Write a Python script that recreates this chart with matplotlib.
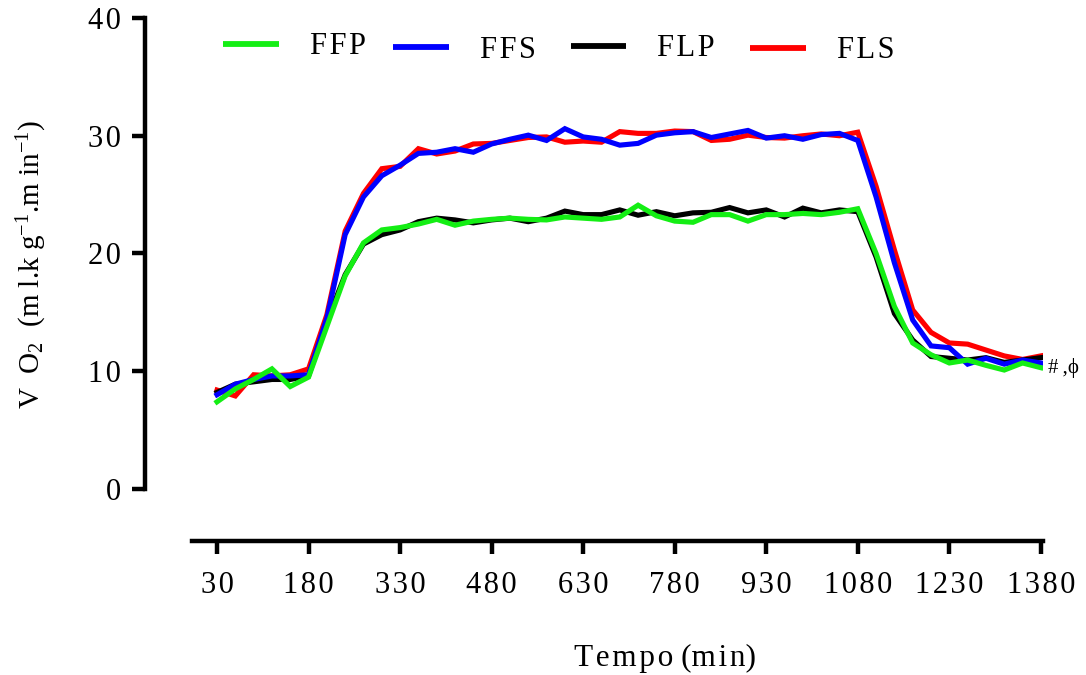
import matplotlib
matplotlib.use("Agg")
import matplotlib.pyplot as plt
from matplotlib.lines import Line2D

plt.rcParams['font.family'] = ['Liberation Serif', 'DejaVu Serif']
plt.rcParams['mathtext.fontset'] = 'custom'
plt.rcParams['mathtext.rm'] = 'Liberation Serif'
plt.rcParams['mathtext.it'] = 'Liberation Serif:italic'

# Sampling times (min)
tempo = list(range(30, 1381, 30))

ffp = [7.4, 8.5, 9.3, 10.2, 8.7, 9.5, 13.8, 18.1, 20.9, 22.0, 22.2, 22.5, 22.9, 22.4,
       22.75, 22.9, 23.0, 22.9, 22.85, 23.1, 23.0, 22.9, 23.1, 24.1, 23.2, 22.75, 22.65,
       23.3, 23.3, 22.75, 23.3, 23.3, 23.4, 23.3, 23.5, 23.8, 20.0, 15.5, 12.4, 11.4,
       10.7, 10.95, 10.5, 10.1, 10.7, 10.3]
flp = [8.2, 8.9, 9.1, 9.3, 9.3, 9.6, 14.2, 18.2, 20.8, 21.6, 22.0, 22.7, 23.0, 22.85,
       22.6, 22.85, 23.0, 22.7, 23.0, 23.6, 23.3, 23.3, 23.7, 23.25, 23.55, 23.2, 23.45,
       23.5, 23.9, 23.45, 23.7, 23.1, 23.85, 23.45, 23.7, 23.55, 19.7, 14.9, 12.65, 11.25,
       11.1, 10.95, 11.15, 10.75, 10.95, 11.15]
ffs = [8.0, 8.9, 9.3, 9.6, 9.6, 9.7, 14.5, 21.6, 24.8, 26.6, 27.5, 28.5, 28.6, 28.9,
       28.6, 29.3, 29.7, 30.05, 29.6, 30.6, 29.9, 29.7, 29.2, 29.35, 30.05, 30.25, 30.35,
       29.85, 30.15, 30.45, 29.8, 30.0, 29.7, 30.1, 30.2, 29.6, 24.8, 19.2, 14.35, 12.15,
       12.0, 10.6, 11.1, 10.6, 10.95, 10.7]
fls = [8.4, 7.9, 9.7, 9.6, 9.7, 10.2, 14.8, 21.9, 25.1, 27.2, 27.4, 28.9, 28.45, 28.7,
       29.3, 29.35, 29.6, 29.85, 29.9, 29.45, 29.55, 29.45, 30.35, 30.2, 30.2, 30.4, 30.35,
       29.6, 29.7, 30.05, 29.85, 29.8, 30.0, 30.15, 30.0, 30.3, 25.7, 20.3, 15.2, 13.3,
       12.4, 12.3, 11.8, 11.3, 11.0, 11.3]

series_names = ["FFP", "FFS", "FLP", "FLS"]
colors = {"FFP": "#14ee14", "FFS": "#0000ff", "FLP": "#000000", "FLS": "#ff0000"}
xticks = list(range(30, 1381, 150))
yticks = [0, 10, 20, 30, 40]

HAIR = "\u200a"
THIN = "\u2009"


def spaced(s, sep=HAIR):
    return sep.join(s)


fig = plt.figure(figsize=(10.86, 6.75), dpi=100)
ax = fig.add_axes([192 / 1086, 1 - 541 / 675, (1043 - 192) / 1086, (541 - 18) / 675])

lw = 3.7
ax.plot(tempo, fls, color=colors["FLS"], lw=lw, solid_joinstyle='miter', zorder=2)
ax.plot(tempo, flp, color=colors["FLP"], lw=lw, solid_joinstyle='miter', zorder=3)
ax.plot(tempo, ffs, color=colors["FFS"], lw=lw, solid_joinstyle='miter', zorder=4)
ax.plot(tempo, ffp, color=colors["FFP"], lw=lw, solid_joinstyle='miter', zorder=5)

ax.set_xlim(-11, 1383.5)
ax.set_ylim(-4.42, 40)

for side in ("top", "right"):
    ax.spines[side].set_visible(False)
ax.spines['left'].set_position(('outward', 33.8))
ax.spines['left'].set_bounds(0, 40)
for side in ("left", "bottom"):
    ax.spines[side].set_linewidth(3.2)
    ax.spines[side].set_capstyle('projecting')

ax.set_xticks(xticks)
ax.set_xticklabels([spaced(str(v)) for v in xticks])
ax.set_yticks(yticks)
ax.set_yticklabels([spaced(str(v)) for v in yticks])
ax.tick_params(axis='both', direction='out', length=9.5, width=3.2, labelsize=22,
               color='black')
ax.tick_params(axis='x', pad=12)
ax.tick_params(axis='y', pad=8)

# axis titles
fig.text(665 / 1086, 1 - 658 / 675, spaced("Tempo") + " (" + spaced("min") + ")",
         ha='center', va='center', fontsize=22.5)
fig.text(32 / 1086, 1 - 264 / 675,
         r"V  O$_{2}$  (m l.k g$^{-1}$.m in$^{-1}$)",
         ha='center', va='center', rotation=90, fontsize=21)

# significance marker at the end of the series
ax.annotate("#" + THIN + "," + "\u03d5", xy=(tempo[-1], ffp[-1]), xytext=(5, 0),
            textcoords='offset points', ha='left', va='center', fontsize=15)

# legend row
legend_items = [
    ("FFP", 223, 279, 310, 44),
    ("FFS", 393, 449, 480, 47),
    ("FLP", 571, 626, 657, 46),
    ("FLS", 750, 806, 837, 48),
]
for name, x0, x1, xt, yy in legend_items:
    fy = 1 - yy / 675
    fig.add_artist(Line2D([x0 / 1086, x1 / 1086], [fy, fy], color=colors[name],
                          lw=4.2, solid_capstyle='butt', transform=fig.transFigure))
    fig.text(xt / 1086, 1 - (yy + 3) / 675, spaced(name), ha='left', va='center',
             fontsize=22)

fig.savefig("out.png", dpi=100)
